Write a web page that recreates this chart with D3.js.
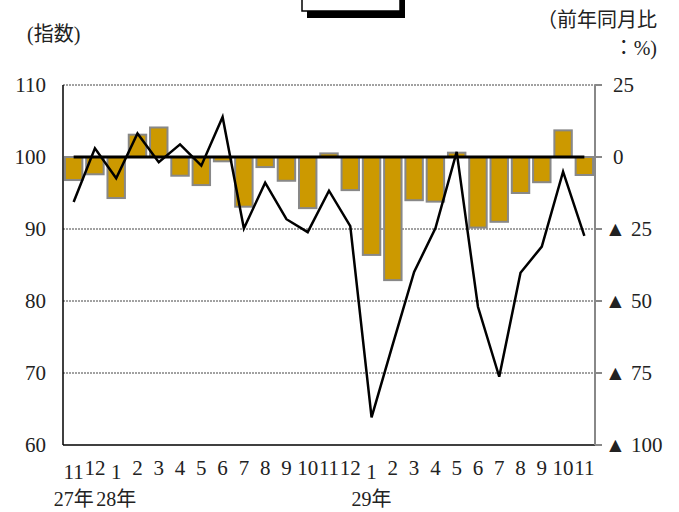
<!DOCTYPE html>
<html>
<head>
<meta charset="utf-8">
<script src="https://cdn.jsdelivr.net/npm/d3@7"></script>
<style>
  body { margin: 0; background: #fff; }
  svg text { font-family: "Liberation Serif", "Noto Sans CJK JP", serif; fill: #222; }
</style>
</head>
<body>
<svg id="chart" width="679" height="512"></svg>
<script>
// months along the x axis (27年11月 .. 29年11月)
const monthLabels = ["11","12","1","2","3","4","5","6","7","8","9","10","11","12",
                     "1","2","3","4","5","6","7","8","9","10","11"];
const yearLabels = ["27年","","28年","","","","","","","","","","","",
                    "29年","","","","","","","","","",""];
// index (bars, left axis)
const indexValues = [96.8, 97.6, 94.3, 103.1, 104.1, 97.4, 96.1, 99.4, 93.1, 98.6, 96.7, 92.9, 100.5,
                     95.4, 86.4, 82.9, 94.0, 93.8, 100.6, 90.2, 91.0, 95.0, 96.5, 103.7, 97.5];
// year-on-year change % (line, right axis)
const yoyValues = [-15.6, 3.0, -7.4, 8.2, -1.8, 4.4, -3.0, 13.9, -24.8, -8.9, -21.6, -26.1, -11.7,
                   -24.0, -90.4, -65.0, -39.9, -24.8, 1.8, -52.0, -76.3, -40.2, -31.1, -5.1, -27.4];
const leftTicks = [60, 70, 80, 90, 100, 110];
const rightTicks = [25, 0, -25, -50, -75, -100];
const baseValue = 100;

const svg = d3.select("#chart");
const margin = { left: 63, right: 595, top: 85, bottom: 445 };

const x = d3.scaleBand()
    .domain(d3.range(monthLabels.length))
    .range([margin.left, margin.right])
    .paddingInner(0.18)
    .paddingOuter(0.09);
const yL = d3.scaleLinear().domain([60, 110]).range([margin.bottom, margin.top]);
const yR = d3.scaleLinear().domain([-100, 25]).range([margin.bottom, margin.top]);
const cx = i => x(i) + x.bandwidth() / 2;

// title box (cut off at the top)
svg.append("rect").attr("x", 307).attr("y", -5).attr("width", 98).attr("height", 23).attr("fill", "#000");
svg.append("rect").attr("x", 302).attr("y", -6).attr("width", 98).attr("height", 17)
    .attr("fill", "#fff").attr("stroke", "#000").attr("stroke-width", 1.5);

// dotted gridlines
svg.selectAll("line.grid")
    .data([70, 80, 90, 110])
    .enter().append("line")
    .attr("class", "grid")
    .attr("x1", margin.left).attr("x2", margin.right)
    .attr("y1", d => yL(d)).attr("y2", d => yL(d))
    .attr("stroke", "#444").attr("stroke-width", 1)
    .attr("stroke-dasharray", "2,1");

// bars from the 100 line
svg.selectAll("rect.bar")
    .data(indexValues)
    .enter().append("rect")
    .attr("class", "bar")
    .attr("x", (d, i) => x(i))
    .attr("y", d => yL(Math.max(d, baseValue)))
    .attr("width", x.bandwidth())
    .attr("height", d => Math.abs(yL(d) - yL(baseValue)))
    .attr("fill", "#cc9900")
    .attr("stroke", "#888")
    .attr("stroke-width", 2);

// 100 reference line
svg.append("line")
    .attr("x1", cx(0)).attr("x2", cx(monthLabels.length - 1))
    .attr("y1", yL(baseValue)).attr("y2", yL(baseValue))
    .attr("stroke", "#000").attr("stroke-width", 3);

// yoy line
const line = d3.line().x((d, i) => cx(i)).y(d => yR(d));
svg.append("path")
    .datum(yoyValues)
    .attr("d", line)
    .attr("fill", "none")
    .attr("stroke", "#000")
    .attr("stroke-width", 2.5)
    .attr("stroke-linejoin", "miter");

// axes lines
svg.append("line").attr("x1", margin.left).attr("x2", margin.left)
    .attr("y1", margin.top).attr("y2", margin.bottom).attr("stroke", "#000").attr("stroke-width", 1.5);
svg.append("line").attr("x1", margin.left).attr("x2", margin.right)
    .attr("y1", margin.bottom).attr("y2", margin.bottom).attr("stroke", "#000").attr("stroke-width", 1.5);
svg.append("line").attr("x1", margin.right).attr("x2", margin.right)
    .attr("y1", margin.top).attr("y2", margin.bottom).attr("stroke", "#888").attr("stroke-width", 2);
svg.selectAll("line.rtick")
    .data(rightTicks)
    .enter().append("line")
    .attr("class", "rtick")
    .attr("x1", margin.right).attr("x2", margin.right + 7)
    .attr("y1", d => yR(d)).attr("y2", d => yR(d))
    .attr("stroke", "#888").attr("stroke-width", 2);

// left tick labels
svg.selectAll("text.ltick")
    .data(leftTicks)
    .enter().append("text")
    .attr("class", "ltick")
    .attr("x", 46).attr("y", d => yL(d))
    .attr("dy", "0.35em")
    .attr("text-anchor", "end")
    .style("font-size", "21px")
    .text(d => d);

// right tick labels (negatives shown with ▲)
svg.selectAll("text.rtlabel")
    .data(rightTicks)
    .enter().append("text")
    .attr("class", "rtlabel")
    .attr("x", d => d < 0 ? 605 : 613).attr("y", d => yR(d))
    .attr("dy", "0.35em")
    .style("font-size", "21px")
    .text(d => d < 0 ? "▲ " + (-d) : d);

// month labels
svg.selectAll("text.month")
    .data(monthLabels)
    .enter().append("text")
    .attr("class", "month")
    .attr("x", (d, i) => cx(i))
    .attr("y", (d, i) => yearLabels[i] ? 479 : 475)
    .attr("text-anchor", "middle")
    .style("font-size", "21px")
    .text(d => d);

svg.selectAll("text.year")
    .data(yearLabels)
    .enter().append("text")
    .attr("class", "year")
    .attr("x", (d, i) => cx(i))
    .attr("y", 506)
    .attr("text-anchor", "middle")
    .style("font-size", "20px")
    .text(d => d);

// axis titles
svg.append("text").attr("x", 27).attr("y", 41).style("font-size", "20px").text("(指数)");
svg.append("text").attr("x", 657).attr("y", 27).attr("text-anchor", "end")
    .style("font-size", "20px").text("（前年同月比");
svg.append("text").attr("x", 657).attr("y", 55).attr("text-anchor", "end")
    .style("font-size", "20px").text("：%)");
</script>
</body>
</html>
